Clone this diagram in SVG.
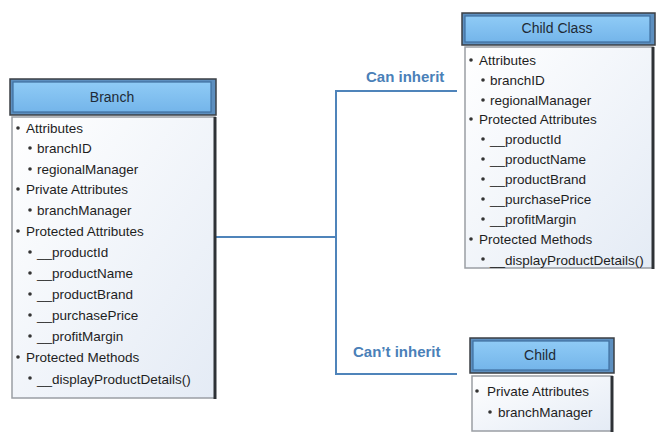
<svg xmlns="http://www.w3.org/2000/svg" width="664" height="441" viewBox="0 0 664 441">
<defs>
<linearGradient id="hdr" x1="0" y1="0" x2="0" y2="1"><stop offset="0" stop-color="#8fcbf6"/><stop offset="1" stop-color="#74b5ea"/></linearGradient>
<linearGradient id="bdy" x1="0" y1="0" x2="1" y2="1"><stop offset="0" stop-color="#ffffff"/><stop offset="1" stop-color="#e4ebf5"/></linearGradient>
<style>
.ho{fill:#5d8fbf;stroke:#3b3f44;stroke-width:1.5}
.hi{fill:url(#hdr);stroke:#3e6f9f;stroke-width:1.2}
.bd{fill:url(#bdy);stroke:#9a9ea4;stroke-width:1.5}
.sh{stroke:#2e3236;stroke-width:3}
.t{font-family:"Liberation Sans",Arial,sans-serif;font-size:13.5px;fill:#1e1e1e}
.h{font-family:"Liberation Sans",Arial,sans-serif;font-size:14px;fill:#1e2a36;text-anchor:middle}
.lb{font-family:"Liberation Sans",Arial,sans-serif;font-size:15px;fill:#4a80b8;font-weight:bold}
.b{fill:#333}
.c{fill:none;stroke:#4f84ba;stroke-width:2}
</style>
</defs>
<rect width="664" height="441" fill="#ffffff"/>
<g id="connectors">
<polyline class="c" points="216,237 336,237"/>
<polyline class="c" points="457,91 336,91 336,374 457,374"/>
<text class="lb" x="366" y="82">Can inherit</text>
<text class="lb" x="353" y="357">Can’t inherit</text>
</g>
<g id="branch">
<rect class="ho" x="10" y="79" width="206" height="36"/>
<rect class="hi" x="13" y="82" width="198" height="30"/>
<text class="h" x="112" y="102">Branch</text>
<rect class="bd" x="12" y="117" width="203" height="281"/>
<line class="sh" x1="215" y1="117" x2="215" y2="399"/>
<g class="t">
<text x="26" y="133">Attributes</text>
<text x="37" y="153">branchID</text>
<text x="37" y="174">regionalManager</text>
<text x="26" y="194">Private Attributes</text>
<text x="37" y="215">branchManager</text>
<text x="26" y="236">Protected Attributes</text>
<text x="37" y="257">__productId</text>
<text x="37" y="278">__productName</text>
<text x="37" y="299">__productBrand</text>
<text x="37" y="320">__purchasePrice</text>
<text x="37" y="341">__profitMargin</text>
<text x="26" y="362">Protected Methods</text>
<text x="37" y="384">__displayProductDetails()</text>
</g>
<g class="b">
<circle cx="18" cy="128" r="1.8"/><circle cx="30" cy="148" r="1.8"/><circle cx="30" cy="169" r="1.8"/>
<circle cx="18" cy="189" r="1.8"/><circle cx="30" cy="210" r="1.8"/><circle cx="18" cy="231" r="1.8"/>
<circle cx="30" cy="252" r="1.8"/><circle cx="30" cy="273" r="1.8"/><circle cx="30" cy="294" r="1.8"/>
<circle cx="30" cy="315" r="1.8"/><circle cx="30" cy="336" r="1.8"/><circle cx="18" cy="357" r="1.8"/>
<circle cx="30" cy="378" r="1.8"/>
</g>
</g>
<g id="child-class">
<rect class="ho" x="462" y="13" width="193" height="32"/>
<rect class="hi" x="465" y="16" width="185" height="26"/>
<text class="h" x="557" y="33">Child Class</text>
<rect class="bd" x="465" y="47" width="188" height="221"/>
<line class="sh" x1="653" y1="47" x2="653" y2="269"/>
<g class="t">
<text x="479" y="65">Attributes</text>
<text x="490" y="85">branchID</text>
<text x="490" y="105">regionalManager</text>
<text x="479" y="124">Protected Attributes</text>
<text x="490" y="144">__productId</text>
<text x="490" y="164">__productName</text>
<text x="490" y="184">__productBrand</text>
<text x="490" y="204">__purchasePrice</text>
<text x="490" y="224">__profitMargin</text>
<text x="479" y="244">Protected Methods</text>
<text x="490" y="265">__displayProductDetails()</text>
</g>
<g class="b">
<circle cx="471" cy="60" r="1.8"/><circle cx="483" cy="80" r="1.8"/><circle cx="483" cy="100" r="1.8"/>
<circle cx="471" cy="119" r="1.8"/><circle cx="483" cy="139" r="1.8"/><circle cx="483" cy="159" r="1.8"/>
<circle cx="483" cy="179" r="1.8"/><circle cx="483" cy="199" r="1.8"/><circle cx="483" cy="219" r="1.8"/>
<circle cx="471" cy="239" r="1.8"/><circle cx="483" cy="259" r="1.8"/>
</g>
</g>
<g id="child">
<rect class="ho" x="470" y="338" width="144" height="35"/>
<rect class="hi" x="473" y="341" width="136" height="29"/>
<text class="h" x="540" y="360">Child</text>
<rect class="bd" x="472" y="376" width="140" height="55"/>
<line class="sh" x1="612" y1="376" x2="612" y2="432"/>
<g class="t">
<text x="487" y="396">Private Attributes</text>
<text x="498" y="417">branchManager</text>
</g>
<g class="b"><circle cx="477" cy="391" r="1.8"/><circle cx="490" cy="412" r="1.8"/></g>
</g>
</svg>
